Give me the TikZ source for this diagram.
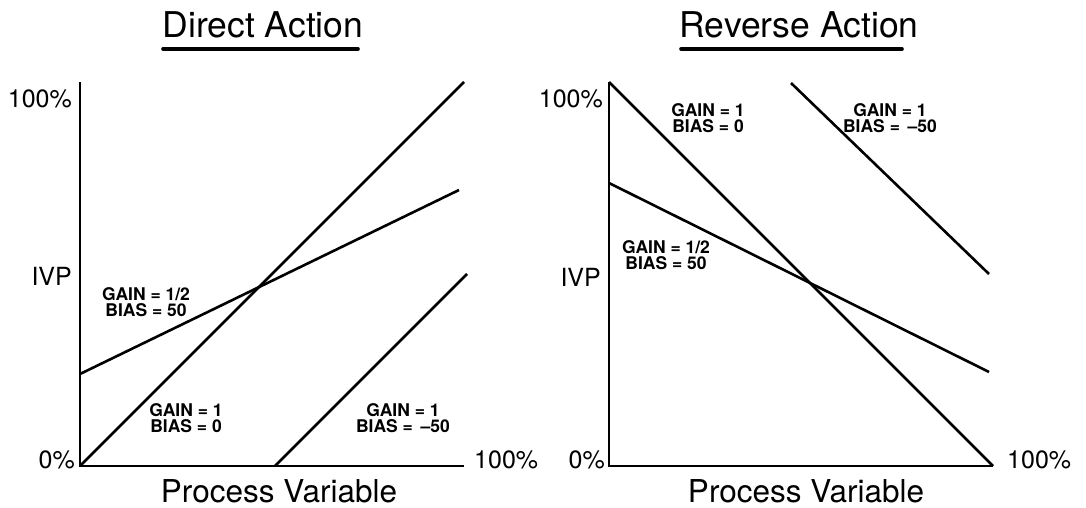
\documentclass[tikz,border=0pt]{standalone}
\usepackage{fontspec}
\setmainfont{TeX Gyre Heros}
\begin{document}
\begin{tikzpicture}[x=1pt,y=-1pt,
  curve/.style={line width=2.6pt,line cap=butt},
  axis/.style={line width=2.8pt},
  title/.style={font=\fontsize{35.5}{40}\selectfont,inner sep=0pt,anchor=base},
  biglabel/.style={font=\fontsize{25}{28}\selectfont,inner sep=0pt},
  axlabel/.style={font=\fontsize{31.5}{36}\selectfont,inner sep=0pt,anchor=base},
  setting/.style={font=\fontsize{17.5}{16}\selectfont\bfseries,align=center,inner sep=0pt}]
\useasboundingbox (0,0) rectangle (1086,508);

% ---------- Direct action ----------
\node[title] (tD) at (263,38) {Direct Action};
\draw[line width=3.6pt,line cap=round] (163,49) -- (358,49);

\coordinate (Do) at (80,466);
\coordinate (Dtop) at (80,82);
\coordinate (Dend) at (464,466);
\draw[axis] (Dtop) -- (Do) -- (Dend);

\coordinate (Da1) at (80,466);  \coordinate (Da2) at (464,82);
\coordinate (Db1) at (80,374);  \coordinate (Db2) at (459,190);
\coordinate (Dc1) at (275,466); \coordinate (Dc2) at (467,274);
\draw[curve] (Da1) -- (Da2);
\draw[curve] (Db1) -- (Db2);
\draw[curve] (Dc1) -- (Dc2);

\node[biglabel,anchor=base east] (D100) at (72,108) {100\%};
\node[biglabel,anchor=base east] (Divp) at (72,285) {IVP};
\node[biglabel,anchor=base east] (D0) at (75,468) {0\%};
\node[biglabel,anchor=base west] (Dx100) at (474,468) {100\%};
\node[axlabel] (Dpv) at (279,502) {Process Variable};

\node[setting] (Dsb) at (146,302) {GAIN = 1/2\\BIAS = 50};
\node[setting] (Dsa) at (186,418) {GAIN = 1\\BIAS = 0};
\node[setting] (Dsc) at (403,418) {GAIN = 1\\BIAS = \,–50};

% ---------- Reverse action ----------
\node[title] (tR) at (799,38) {Reverse Action};
\draw[line width=3.6pt,line cap=round] (681,49) -- (902,49);

\coordinate (Ro) at (609,466);
\coordinate (Rtop) at (609,82);
\coordinate (Rend) at (993,466);
\draw[axis] (Rtop) -- (Ro) -- (Rend);

\coordinate (Ra1) at (609,82);  \coordinate (Ra2) at (993,466);
\coordinate (Rb1) at (609,183); \coordinate (Rb2) at (989,372);
\coordinate (Rc1) at (791,83);  \coordinate (Rc2) at (989,274);
\draw[curve] (Ra1) -- (Ra2);
\draw[curve] (Rb1) -- (Rb2);
\draw[curve] (Rc1) -- (Rc2);

\node[biglabel,anchor=base east] (R100) at (603,108) {100\%};
\node[biglabel,anchor=base east] (Rivp) at (601,286) {IVP};
\node[biglabel,anchor=base east] (R0) at (605,468) {0\%};
\node[biglabel,anchor=base west] (Rx100) at (1007,468) {100\%};
\node[axlabel] (Rpv) at (806,502) {Process Variable};

\node[setting] (Rsa) at (708,118) {GAIN = 1\\BIAS = 0};
\node[setting] (Rsc) at (890,118) {GAIN = 1\\BIAS = \,–50};
\node[setting] (Rsb) at (666,255) {GAIN = 1/2\\BIAS = 50};
\end{tikzpicture}
\end{document}
